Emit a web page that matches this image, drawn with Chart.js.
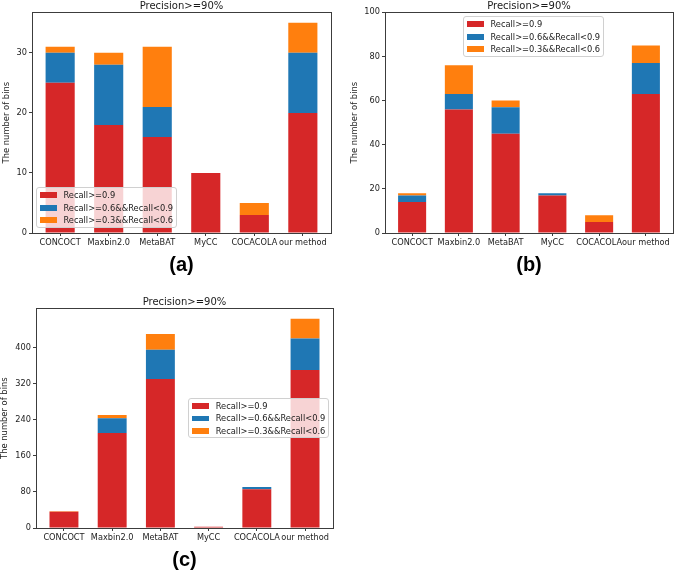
<!DOCTYPE html>
<html>
<head>
<meta charset="utf-8">
<script src="https://cdn.jsdelivr.net/npm/chart.js@4.4.1/dist/chart.umd.min.js"></script>
<style>
    html, body { margin: 0; padding: 0; background: #fff; }
    body { width: 685px; height: 571px; position: relative; overflow: hidden; font-family: 'DejaVu Sans', sans-serif; }
    .panel { position: absolute; }
    .panel canvas { position: absolute; left: 0; top: 0; }
    .legend {
        position: absolute;
        background: rgba(255, 255, 255, 0.8);
        border: 1px solid #d0d0d0;
        border-radius: 3px;
        padding: 1px 3px 0 3px;
        font-size: 8.3px;
        line-height: 12.5px;
        color: #222;
        white-space: nowrap;
    }
    .legend .row { display: flex; align-items: center; height: 12.5px; }
    .legend .swatch { display: inline-block; width: 17px; height: 5.7px; margin-right: 6.4px; }
</style>
</head>
<body>
<div class="panel" id="panelA" style="left:0px; top:0px;">
    <canvas id="chartA" width="340" height="277"></canvas>
    <div class="legend" id="legendA"></div>
</div>
<div class="panel" id="panelB" style="left:340px; top:0px;">
    <canvas id="chartB" width="345" height="277"></canvas>
    <div class="legend" id="legendB"></div>
</div>
<div class="panel" id="panelC" style="left:0px; top:296px;">
    <canvas id="chartC" width="345" height="276"></canvas>
    <div class="legend" id="legendC"></div>
</div>
<script>
// Datos comunes
const methods = ['CONCOCT', 'Maxbin2.0', 'MetaBAT', 'MyCC', 'COCACOLA', 'our method'];
const seriesNames = ['Recall>=0.9', 'Recall>=0.6&&Recall<0.9', 'Recall>=0.3&&Recall<0.6'];
const seriesColors = ['#d62728', '#1f77b4', '#ff7f0e'];

// (a)
const highA = [25, 18, 16, 10, 3, 20];
const midA = [5, 10, 5, 0, 0, 10];
const lowA = [1, 2, 10, 0, 2, 5];
const ticksA = [0, 10, 20, 30];
const yMaxA = 36.75;

// (b)
const highB = [14, 56, 45, 17, 5, 63];
const midB = [3, 7, 12, 1, 0, 14];
const lowB = [1, 13, 3, 0, 3, 8];
const ticksB = [0, 20, 40, 60, 80, 100];
const yMaxB = 100;

// (c)
const highC = [36, 211, 331, 3, 86, 351];
const midC = [0, 33, 65, 0, 5, 70];
const lowC = [1, 7, 35, 0, 0, 44];
const ticksC = [0, 80, 160, 240, 320, 400];
const yMaxC = 488;

Chart.defaults.font.family = "'DejaVu Sans', sans-serif";
Chart.defaults.color = '#222';

// Marco de los ejes (las cuatro líneas)
const framePlugin = {
    id: 'frame',
    afterDraw(chart) {
        const { ctx, chartArea: a } = chart;
        ctx.save();
        ctx.strokeStyle = '#3c3c3c';
        ctx.lineWidth = 1;
        ctx.strokeRect(Math.round(a.left) + 0.5, Math.round(a.top) + 0.5,
            Math.round(a.right - a.left), Math.round(a.bottom - a.top));
        ctx.restore();
    }
};

// Leyenda en HTML colocada dentro del área del gráfico
const htmlLegend = {
    id: 'htmlLegend',
    afterUpdate(chart, args, opts) {
        const box = document.getElementById(opts.containerID);
        box.innerHTML = '';
        chart.options.plugins.legend.labels.generateLabels(chart).forEach(item => {
            const row = document.createElement('div');
            row.className = 'row';
            const sw = document.createElement('span');
            sw.className = 'swatch';
            sw.style.background = item.fillStyle;
            const tx = document.createElement('span');
            tx.textContent = item.text;
            row.append(sw, tx);
            box.appendChild(row);
        });
        const a = chart.chartArea;
        if (opts.left !== undefined) box.style.left = (a.left + opts.left) + 'px';
        if (opts.right !== undefined) box.style.left = (a.right - opts.right - box.offsetWidth) + 'px';
        if (opts.top !== undefined) box.style.top = (a.top + opts.top) + 'px';
        if (opts.bottom !== undefined) box.style.top = (a.bottom - opts.bottom - box.offsetHeight) + 'px';
        if (opts.vcenter) box.style.top = (a.top + (a.bottom - a.top - box.offsetHeight) / 2) + 'px';
    }
};

function makeDatasets(high, mid, low) {
    return [high, mid, low].map((vals, k) => ({
        label: seriesNames[k],
        data: vals.map((v, i) => ({ x: i, y: v })),
        backgroundColor: seriesColors[k],
        borderWidth: 0,
        barPercentage: 0.6,
        categoryPercentage: 1.0
    }));
}

function makeChart(canvasId, cfg) {
    new Chart(document.getElementById(canvasId), {
        type: 'bar',
        data: { datasets: makeDatasets(cfg.high, cfg.mid, cfg.low) },
        options: {
            responsive: false,
            animation: false,
            layout: { padding: { left: cfg.padLeft, right: cfg.padRight, top: 0, bottom: 0 } },
            scales: {
                x: {
                    type: 'linear',
                    stacked: true,
                    offset: false,
                    min: -0.58,
                    max: 5.58,
                    afterBuildTicks(axis) {
                        axis.ticks = methods.map((m, i) => ({ value: i }));
                    },
                    afterFit(scale) { scale.height = 44; },
                    ticks: {
                        autoSkip: false,
                        maxRotation: 0,
                        minRotation: 0,
                        padding: 2,
                        color: '#222',
                        font: { size: 8.2 },
                        callback: (v) => methods[v]
                    },
                    grid: { drawOnChartArea: false, drawTicks: true, tickLength: 3, color: '#3c3c3c', offset: false },
                    border: { display: false },
                    title: {
                        display: true,
                        text: cfg.label,
                        color: '#000',
                        font: { family: "'Liberation Sans', Arial, sans-serif", size: 20, weight: 'bold' },
                        padding: { top: 0, bottom: 0 }
                    }
                },
                y: {
                    stacked: true,
                    min: 0,
                    max: cfg.yMax,
                    afterBuildTicks(axis) {
                        axis.ticks = cfg.ticks.map(v => ({ value: v }));
                    },
                    afterFit(scale) { scale.width = cfg.yWidth; },
                    ticks: { padding: 2, color: '#222', font: { size: 8.2 } },
                    grid: { drawOnChartArea: false, drawTicks: true, tickLength: 3, color: '#3c3c3c' },
                    border: { display: false },
                    title: {
                        display: true,
                        text: 'The number of bins',
                        color: '#222',
                        font: { size: 8.4 },
                        padding: { top: 0, bottom: 0 }
                    }
                }
            },
            plugins: {
                title: {
                    display: true,
                    text: 'Precision>=90%',
                    color: '#1a1a1a',
                    fullSize: false,
                    font: { size: 10, weight: 'normal' },
                    padding: { top: 0, bottom: 0.3 }
                },
                legend: { display: false },
                tooltip: { enabled: false },
                htmlLegend: cfg.legend
            }
        },
        plugins: [framePlugin, htmlLegend]
    });
}

makeChart('chartA', {
    high: highA, mid: midA, low: lowA, ticks: ticksA, yMax: yMaxA,
    padLeft: 2, padRight: 9, yWidth: 30, label: '(a)',
    legend: { containerID: 'legendA', left: 4, bottom: 5 }
});

makeChart('chartB', {
    high: highB, mid: midB, low: lowB, ticks: ticksB, yMax: yMaxB,
    padLeft: 10, padRight: 12, yWidth: 35, label: '(b)',
    legend: { containerID: 'legendB', left: 78, top: 3.7 }
});

makeChart('chartC', {
    high: highC, mid: midC, low: lowC, ticks: ticksC, yMax: yMaxC,
    padLeft: 0, padRight: 12, yWidth: 36, label: '(c)',
    legend: { containerID: 'legendC', right: 3.7, vcenter: true }
});
</script>
</body>
</html>
